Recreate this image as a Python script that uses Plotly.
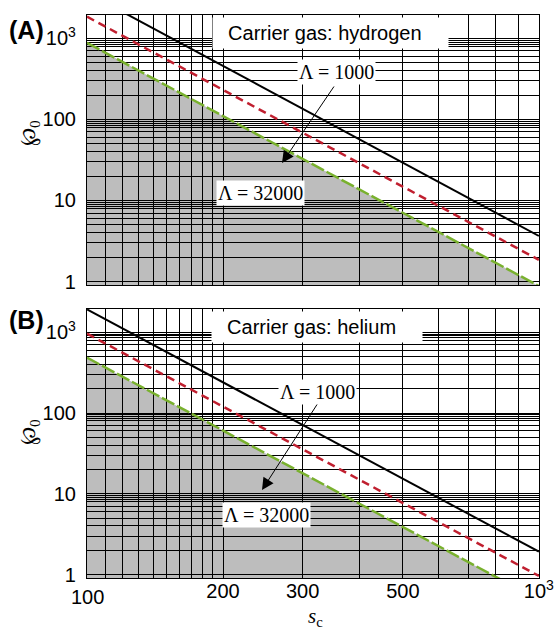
import math
import plotly.graph_objects as go

# ---------------- data ----------------
s_c = [100, 1000]
# panel A (hydrogen)
p0_a_black = [3650, 3.65]
p0_a_red = [1850, 1.85]
p0_a_green = [880, 0.88]
# panel B (helium)
p0_b_black = [1920, 1.92]
p0_b_red = [960, 0.96]
p0_b_green = [485, 0.485]

x_tick_vals = [100, 200, 300, 500, 1000]
x_tick_text = ["100", "200", "300", "500", "10<sup>3</sup>"]
x_minor_vals = [110, 120, 130, 140, 150, 160, 170, 180, 190, 400, 600, 700, 800, 900]
y_tick_vals = [1, 10, 100, 1000]
y_tick_text = ["1", "10", "100", "10<sup>3</sup>"]
y_minor_mult = [2, 3, 4, 5, 6, 7, 8, 8.5, 9, 9.5]
y_decades = [1, 10, 100, 1000]
y_minor_vals = [m * d for d in y_decades for m in y_minor_mult]

panel_labels = ["(A)", "(B)"]
gas_labels = ["Carrier gas: hydrogen", "Carrier gas: helium"]
lam_low = "Λ = 1000"
lam_high = "Λ = 32000"

# ---------------- layout helpers ----------------
W, H = 554, 629
L, R, T, B = 87, 15, 15, 51
PW = W - L - R
PH = H - T - B


def xp(px):
    return (px - L) / PW


def yp(py):
    return (H - B - py) / PH


dom_a = [yp(285), 1.0]
dom_b = [0.0, yp(309)]

BLACK = "#000000"
RED = "#C01F2F"
GREEN = "#79B12E"
GRAY = "#BDBDBD"

fig = go.Figure()

panels = [
    ("x", "y", p0_a_black, p0_a_red, p0_a_green),
    ("x2", "y2", p0_b_black, p0_b_red, p0_b_green),
]

for xa, ya, pb, pr, pg in panels:
    fig.add_trace(go.Scatter(x=s_c, y=pg, mode="lines", xaxis=xa, yaxis=ya,
                             line=dict(color=GREEN, width=2.5, dash="14px,3px"),
                             showlegend=False, hoverinfo="skip"))
    fig.add_trace(go.Scatter(x=s_c, y=pr, mode="lines", xaxis=xa, yaxis=ya,
                             line=dict(color=RED, width=2.5, dash="8px,5px"),
                             showlegend=False, hoverinfo="skip"))
    fig.add_trace(go.Scatter(x=s_c, y=pb, mode="lines", xaxis=xa, yaxis=ya,
                             line=dict(color=BLACK, width=2),
                             showlegend=False, hoverinfo="skip"))
    # gray region under the green line (below the grid)
    ybot = 0.5
    path = (f"M{s_c[0]},{pg[0]} L{s_c[1]},{pg[1]} "
            f"L{s_c[1]},{ybot} L{s_c[0]},{ybot} Z")
    fig.add_shape(type="path", path=path, xref=xa, yref=ya,
                  fillcolor=GRAY, line=dict(width=0), layer="below")

GW = 1.2
SANS = "Liberation Sans, Arial, sans-serif"
SERIF = "Liberation Serif, Times New Roman, serif"
axis_common = dict(
    type="log", automargin=False,
    showline=True, mirror=True, linecolor=BLACK, linewidth=1.2,
    showgrid=True, gridcolor=BLACK, gridwidth=GW,
    zeroline=False, ticks="",
    tickfont=dict(family=SANS, size=20, color=BLACK),
)

# first x label (100) is drawn separately, a little lower, as in the reference
xaxis_cfg = dict(axis_common, range=[2, 3.0003], tickmode="array",
                 tickvals=x_tick_vals[1:], ticktext=x_tick_text[1:],
                 ticklabeloverflow="allow",
                 minor=dict(tickmode="array", tickvals=[x_tick_vals[0]] + x_minor_vals,
                            showgrid=True, gridcolor=BLACK, gridwidth=GW, ticks=""))
yaxis_cfg = dict(axis_common, range=[-0.043, 3.288], tickmode="array",
                 tickvals=y_tick_vals, ticktext=y_tick_text,
                 ticklabelstandoff=6,
                 minor=dict(tickmode="array", tickvals=y_minor_vals, showgrid=True,
                            gridcolor=BLACK, gridwidth=GW, ticks=""))

fig.update_layout(
    width=W, height=H,
    margin=dict(l=L, r=R, t=T, b=B, autoexpand=False),
    paper_bgcolor="white", plot_bgcolor="white",
    xaxis=dict(xaxis_cfg, anchor="y", showticklabels=False),
    yaxis=dict(yaxis_cfg, domain=dom_a, anchor="x"),
    xaxis2=dict(xaxis_cfg, anchor="y2", ticklabelstandoff=-5),
    yaxis2=dict(yaxis_cfg, domain=dom_b, anchor="x2"),
)

ann = []
# first x tick label
ann.append(dict(text=x_tick_text[0], x=math.log10(x_tick_vals[0]), xref="x2",
                y=yp(597), yref="paper", showarrow=False,
                xanchor="center", yanchor="middle",
                font=dict(family=SANS, size=20, color=BLACK)))
# panel letters
for txt, cy in zip(panel_labels, [30, 320]):
    ann.append(dict(text=f"<b>{txt}</b>", x=xp(27), y=yp(cy), xref="paper", yref="paper",
                    showarrow=False, xanchor="center", yanchor="middle",
                    font=dict(family=SANS, size=25, color=BLACK)))
# y titles
for cy in [133, 432]:
    ann.append(dict(text="℘<sub>0</sub>", x=xp(29), y=yp(cy), xref="paper", yref="paper",
                    showarrow=False, textangle=-90, xanchor="center", yanchor="middle",
                    font=dict(family=SERIF, size=22, color=BLACK)))
# x title
ann.append(dict(text="<i>s</i><sub>c</sub>", x=xp(315), y=yp(617), xref="paper", yref="paper",
                showarrow=False, xanchor="center", yanchor="middle",
                font=dict(family=SERIF, size=21, color=BLACK)))
# gas boxes
ann.append(dict(text="&nbsp;&nbsp;" + gas_labels[0] + "&nbsp;&nbsp;&nbsp;&nbsp;",
                x=xp(330), y=yp(33), xref="paper", yref="paper", showarrow=False,
                xanchor="center", yanchor="middle", bgcolor="white", borderpad=4,
                font=dict(family=SANS, size=20, color=BLACK)))
ann.append(dict(text="&nbsp;&nbsp;" + gas_labels[1] + "&nbsp;&nbsp;&nbsp;&nbsp;",
                x=xp(317), y=yp(327), xref="paper", yref="paper", showarrow=False,
                xanchor="center", yanchor="middle", bgcolor="white", borderpad=4,
                font=dict(family=SANS, size=20, color=BLACK)))
# lambda labels
for txt, cx, cy in [(lam_low, 336, 72), (lam_high, 260, 193),
                    (lam_low, 317, 392), (lam_high, 266, 515)]:
    ann.append(dict(text=txt, x=xp(cx), y=yp(cy), xref="paper", yref="paper",
                    showarrow=False, xanchor="center", yanchor="middle",
                    bgcolor="white", borderpad=1,
                    font=dict(family=SERIF, size=20, color=BLACK)))
# arrows
for (tx, ty), (hx, hy) in [((335, 85), (282, 163)), ((318, 403), (262, 490))]:
    ann.append(dict(text="", x=xp(hx), y=yp(hy), xref="paper", yref="paper",
                    ax=tx - hx, ay=ty - hy, axref="pixel", ayref="pixel",
                    showarrow=True, arrowhead=2, arrowsize=2.4, arrowwidth=1,
                    arrowcolor=BLACK))

fig.update_layout(annotations=ann)

fig.write_html("out.html")
